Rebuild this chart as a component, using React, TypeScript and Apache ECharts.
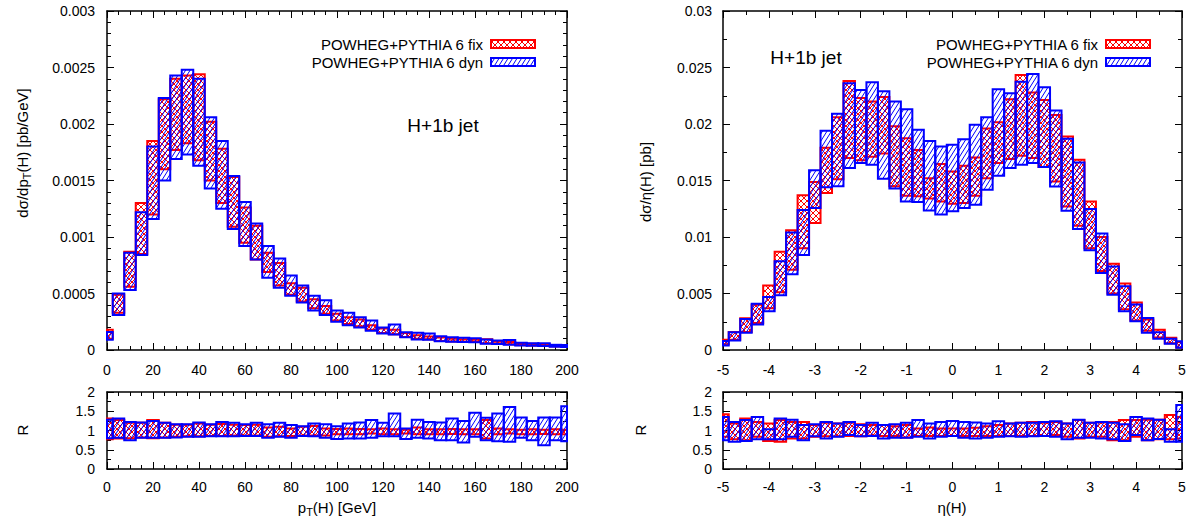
import React, { useEffect, useRef } from 'react';
import * as echarts from 'echarts';

// ---------------- DATA ----------------
const ptCenters = [0, 5, 10, 15, 20, 25, 30, 35, 40, 45, 50, 55, 60, 65, 70, 75, 80, 85, 90, 95, 100, 105, 110, 115, 120, 125, 130, 135, 140, 145, 150, 155, 160, 165, 170, 175, 180, 185, 190, 195, 200];
const ptBinWidth = 5;

const ptFixLo = [0.0001, 0.00033, 0.00056, 0.00085, 0.0012, 0.0016, 0.00177, 0.00183, 0.00168, 0.0015, 0.0013, 0.00109, 0.00095, 0.0008, 0.00069, 0.00057, 0.00049, 0.00043, 0.00037, 0.00032, 0.00026, 0.00023, 0.00021, 0.00018, 0.00015, 0.00014, 0.000115, 0.0001, 0.000095, 0.00008, 0.000076, 0.000072, 0.00007, 0.00006, 0.000055, 0.00005, 0.000043, 0.00004, 0.000038, 0.000032, 0.00003];
const ptFixHi = [0.00018, 0.00049, 0.00087, 0.0013, 0.00185, 0.00222, 0.0024, 0.00243, 0.00244, 0.00202, 0.00178, 0.00153, 0.00126, 0.0011, 0.00086, 0.00077, 0.00059, 0.00055, 0.00045, 0.00039, 0.00032, 0.00029, 0.00027, 0.00022, 0.00019, 0.00018, 0.00015, 0.00013, 0.00012, 0.00011, 0.0001, 0.000095, 0.00009, 0.000095, 0.000075, 0.00007, 0.00006, 0.000055, 0.00005, 0.000042, 0.00004];
const ptDynLo = [0.00009, 0.00031, 0.00053, 0.00084, 0.00116, 0.0015, 0.00169, 0.00173, 0.00163, 0.00143, 0.00125, 0.00107, 0.00092, 0.0008, 0.00064, 0.00055, 0.00048, 0.00042, 0.00035, 0.00031, 0.00025, 0.00022, 0.0002, 0.00017, 0.000146, 0.000137, 0.000113, 0.000093, 0.00009, 0.000078, 0.000073, 0.00007, 0.000068, 0.000055, 0.000052, 0.000046, 0.00004, 0.000038, 0.000035, 0.000029, 0.000027];
const ptDynHi = [0.00016, 0.0005, 0.00086, 0.00122, 0.0018, 0.00223, 0.00243, 0.00248, 0.0024, 0.00206, 0.00185, 0.00154, 0.00131, 0.00112, 0.00092, 0.00081, 0.00066, 0.00057, 0.00048, 0.00044, 0.00035, 0.00033, 0.00029, 0.00026, 0.0002, 0.000225, 0.000157, 0.000152, 0.000146, 0.000122, 0.000113, 0.000108, 0.000105, 0.000093, 0.000085, 0.000088, 0.000064, 0.00006, 0.00006, 0.000046, 0.000045];

const ptRatioFixLo = [0.77, 0.79, 0.8, 0.82, 0.8, 0.82, 0.84, 0.85, 0.85, 0.86, 0.86, 0.87, 0.87, 0.87, 0.84, 0.85, 0.86, 0.87, 0.87, 0.87, 0.9, 0.9, 0.9, 0.92, 0.9, 0.9, 0.92, 0.9, 0.9, 0.9, 0.91, 0.9, 0.9, 0.79, 0.9, 0.92, 0.9, 0.9, 0.91, 0.9, 0.9];
const ptRatioFixHi = [1.31, 1.27, 1.2, 1.2, 1.27, 1.2, 1.15, 1.15, 1.18, 1.15, 1.17, 1.15, 1.14, 1.15, 1.08, 1.1, 1.05, 1.1, 1.12, 1.05, 1.04, 1.05, 1.04, 1.03, 1.05, 1.03, 1.02, 1.08, 1.03, 1.03, 1.04, 1.03, 1.03, 1.27, 1.05, 1.03, 1.02, 1.03, 1.02, 1.03, 1.02];
const ptRatioDynLo = [0.8, 0.81, 0.75, 0.81, 0.81, 0.81, 0.82, 0.84, 0.84, 0.85, 0.85, 0.85, 0.86, 0.86, 0.81, 0.84, 0.81, 0.86, 0.85, 0.81, 0.78, 0.79, 0.79, 0.81, 0.85, 0.85, 0.78, 0.81, 0.79, 0.75, 0.75, 0.69, 0.84, 0.75, 0.72, 0.71, 0.81, 0.75, 0.62, 0.75, 0.72];
const ptRatioDynHi = [1.28, 1.31, 1.22, 1.21, 1.25, 1.2, 1.16, 1.16, 1.21, 1.16, 1.22, 1.2, 1.16, 1.2, 1.16, 1.2, 1.14, 1.11, 1.18, 1.16, 1.11, 1.18, 1.21, 1.27, 1.2, 1.44, 1.05, 1.28, 1.22, 1.21, 1.31, 1.25, 1.46, 1.33, 1.44, 1.61, 1.34, 1.25, 1.34, 1.34, 1.63];

const etaCenters = [-5, -4.75, -4.5, -4.25, -4, -3.75, -3.5, -3.25, -3, -2.75, -2.5, -2.25, -2, -1.75, -1.5, -1.25, -1, -0.75, -0.5, -0.25, 0, 0.25, 0.5, 0.75, 1, 1.25, 1.5, 1.75, 2, 2.25, 2.5, 2.75, 3, 3.25, 3.5, 3.75, 4, 4.25, 4.5, 4.75, 5];
const etaBinWidth = 0.25;

const etaFixLo = [0.0005, 0.0009, 0.0016, 0.0024, 0.0037, 0.0051, 0.0071, 0.009, 0.01124, 0.0139, 0.0151, 0.017, 0.0168, 0.0171, 0.0174, 0.0145, 0.01365, 0.0136, 0.0134, 0.01315, 0.01295, 0.013, 0.01365, 0.0152, 0.01654, 0.0169, 0.0172, 0.017, 0.0162, 0.01492, 0.01271, 0.011, 0.009, 0.007, 0.005, 0.0036, 0.0026, 0.0017, 0.0011, 0.0006, 0.0002];
const etaFixHi = [0.0009, 0.0016, 0.0028, 0.004, 0.0057, 0.0087, 0.0106, 0.0137, 0.01486, 0.0179, 0.0206, 0.0238, 0.0223, 0.022, 0.0224, 0.0198, 0.01875, 0.0177, 0.0152, 0.01645, 0.0158, 0.0163, 0.01704, 0.0196, 0.02016, 0.0222, 0.02434, 0.02278, 0.02213, 0.0208, 0.01889, 0.01683, 0.01315, 0.01, 0.00764, 0.00588, 0.0042, 0.0027, 0.0018, 0.00108, 0.0007];
const etaDynLo = [0.0004, 0.00084, 0.00152, 0.00225, 0.00343, 0.00485, 0.0067, 0.0084, 0.01256, 0.0144, 0.0145, 0.0161, 0.01654, 0.0164, 0.01515, 0.0143, 0.01315, 0.0131, 0.01235, 0.012, 0.01227, 0.01256, 0.01286, 0.01418, 0.01542, 0.0161, 0.01639, 0.01654, 0.01619, 0.01447, 0.01233, 0.01071, 0.00882, 0.00682, 0.0049, 0.00343, 0.00255, 0.00152, 0.00099, 0.00055, 0.0002];
const etaDynHi = [0.0008, 0.00157, 0.00275, 0.0041, 0.0047, 0.00785, 0.0104, 0.0124, 0.0159, 0.0194, 0.0209, 0.0236, 0.023, 0.0237, 0.0229, 0.022, 0.0213, 0.0195, 0.0185, 0.018, 0.01816, 0.01866, 0.01993, 0.0206, 0.02308, 0.02273, 0.02375, 0.02443, 0.02326, 0.02119, 0.01869, 0.0166, 0.01248, 0.0103, 0.0074, 0.00564, 0.00402, 0.00284, 0.00157, 0.001, 0.00078];

const etaRatioFixLo = [0.84, 0.77, 0.75, 0.84, 0.73, 0.71, 0.79, 0.79, 0.84, 0.85, 0.85, 0.86, 0.85, 0.87, 0.86, 0.86, 0.82, 0.86, 0.86, 0.86, 0.86, 0.86, 0.86, 0.86, 0.86, 0.86, 0.86, 0.86, 0.86, 0.88, 0.84, 0.79, 0.84, 0.84, 0.75, 0.75, 0.84, 0.75, 0.77, 0.77, 0.79];
const etaRatioFixHi = [1.42, 1.18, 1.31, 1.22, 1.18, 1.27, 1.22, 1.22, 1.14, 1.2, 1.18, 1.2, 1.16, 1.14, 1.14, 1.11, 1.14, 1.05, 1.08, 1.05, 1.05, 1.05, 1.07, 1.11, 1.14, 1.18, 1.2, 1.22, 1.2, 1.22, 1.18, 1.27, 1.2, 1.21, 1.22, 1.27, 1.27, 1.28, 1.28, 1.4, 1.35];
const etaRatioDynLo = [0.75, 0.71, 0.73, 0.77, 0.77, 0.77, 0.84, 0.75, 0.85, 0.79, 0.84, 0.88, 0.85, 0.86, 0.79, 0.81, 0.81, 0.84, 0.79, 0.84, 0.86, 0.81, 0.79, 0.81, 0.84, 0.85, 0.84, 0.85, 0.86, 0.84, 0.77, 0.81, 0.81, 0.79, 0.77, 0.73, 0.88, 0.75, 0.78, 0.71, 0.71];
const etaRatioDynHi = [1.35, 1.22, 1.27, 1.35, 1.03, 1.31, 1.28, 1.14, 1.16, 1.22, 1.18, 1.22, 1.14, 1.2, 1.14, 1.16, 1.2, 1.27, 1.18, 1.22, 1.25, 1.22, 1.21, 1.18, 1.24, 1.18, 1.2, 1.2, 1.22, 1.24, 1.18, 1.28, 1.2, 1.22, 1.2, 1.16, 1.35, 1.31, 1.28, 1.03, 1.66];

const legendLabels = ['POWHEG+PYTHIA 6 fix', 'POWHEG+PYTHIA 6 dyn'];
const processLabel = 'H+1b jet';

// ---------------- STYLE ----------------
const FONT = '"Liberation Sans", Arial, Helvetica, sans-serif';
const RED = '#ff0000';
const BLUE = '#0000ff';

// hatch shape: set of parallel lines clipped to a rectangle
const HatchShape = (echarts.graphic as any).extendShape({
  type: 'hatch',
  shape: { x0: 0, y0: 0, x1: 0, y1: 0, step: 5, m: 1, dir: 1 },
  buildPath(ctx: any, s: any) {
    const x0 = Math.min(s.x0, s.x1), x1 = Math.max(s.x0, s.x1);
    const y0 = Math.min(s.y0, s.y1), y1 = Math.max(s.y0, s.y1);
    const m = s.m, step = s.step;
    if (!(step > 0) || x1 - x0 < 0.5 || y1 - y0 < 0.5) return;
    const dk = step * m;
    if (s.dir > 0) {
      const kmin = m * x0 + y0, kmax = m * x1 + y1;
      for (let k = Math.ceil(kmin / dk) * dk; k <= kmax; k += dk) {
        const xa = Math.max(x0, (k - y1) / m);
        const xb = Math.min(x1, (k - y0) / m);
        if (xb - xa > 0.05) {
          ctx.moveTo(xa, k - m * xa);
          ctx.lineTo(xb, k - m * xb);
        }
      }
    } else {
      const kmin = m * x0 - y1, kmax = m * x1 - y0;
      for (let k = Math.ceil(kmin / dk) * dk; k <= kmax; k += dk) {
        const xa = Math.max(x0, (k + y0) / m);
        const xb = Math.min(x1, (k + y1) / m);
        if (xb - xa > 0.05) {
          ctx.moveTo(xa, m * xa - k);
          ctx.lineTo(xb, m * xb - k);
        }
      }
    }
  },
});
(echarts.graphic as any).registerShape('hatch', HatchShape);

type HatchKind = 'fix' | 'dyn';
const hatchParams: Record<HatchKind, { color: string; cross: boolean; step: number; m: number; border: number }> = {
  fix: { color: RED, cross: true, step: 6, m: 1, border: 2 },
  dyn: { color: BLUE, cross: false, step: 4.5, m: 1.6, border: 2 },
};

function hatchChildren(kind: HatchKind, x0: number, y0: number, x1: number, y1: number) {
  const p = hatchParams[kind];
  const ch: any[] = [
    { type: 'hatch', shape: { x0, y0, x1, y1, step: p.step, m: p.m, dir: 1 }, style: { stroke: p.color, lineWidth: 1, fill: 'none' } },
  ];
  if (p.cross) {
    ch.push({ type: 'hatch', shape: { x0, y0, x1, y1, step: p.step, m: p.m, dir: -1 }, style: { stroke: p.color, lineWidth: 1, fill: 'none' } });
  }
  ch.push({ type: 'rect', shape: { x: x0, y: y0, width: x1 - x0, height: y1 - y0 }, style: { stroke: p.color, lineWidth: p.border, fill: 'none' } });
  return ch;
}

function makeBoxes(centers: number[], w: number, lo: number[], hi: number[], min: number, max: number) {
  return centers.map((c, i) => [Math.max(c - w / 2, min), Math.min(c + w / 2, max), lo[i], hi[i]]);
}

function bandSeries(kind: HatchKind, grid: number, data: number[][]) {
  return {
    type: 'custom',
    xAxisIndex: grid * 2,
    yAxisIndex: grid * 2,
    silent: true,
    data,
    renderItem: (_params: any, api: any) => {
      const a = api.coord([api.value(0), api.value(3)]);
      const b = api.coord([api.value(1), api.value(2)]);
      const x0 = Math.min(a[0], b[0]), x1 = Math.max(a[0], b[0]);
      const y0 = Math.min(a[1], b[1]), y1 = Math.max(a[1], b[1]);
      return { type: 'group', children: hatchChildren(kind, x0, y0, x1, y1) };
    },
  };
}

const grids = [
  { left: 107, top: 11, width: 460, height: 339 },
  { left: 107, top: 392, width: 460, height: 77 },
  { left: 723, top: 11, width: 459, height: 339 },
  { left: 723, top: 392, width: 459, height: 77 },
];

const axisLineStyle = { show: true, onZero: false, lineStyle: { color: '#000', width: 1.5 } };
const tickStyle = { show: true, inside: true, length: 7, lineStyle: { color: '#000', width: 1 } };

function xAxisPair(grid: number, min: number, max: number, interval: number, minorSplit: number, margin: number) {
  const base = {
    type: 'value', gridIndex: grid, min, max, interval,
    axisLine: axisLineStyle, axisTick: tickStyle,
    minorTick: { show: true, splitNumber: minorSplit, length: 4, lineStyle: { color: '#000', width: 1 } },
    splitLine: { show: false }, minorSplitLine: { show: false },
  };
  return [
    { ...base, position: 'bottom', axisLabel: { show: true, margin, color: '#000', fontSize: 14, fontFamily: FONT } },
    { ...base, position: 'top', axisLabel: { show: false } },
  ];
}

function yAxisPair(grid: number, min: number, max: number, interval: number, minorSplit: number, margin: number) {
  const base = {
    type: 'value', gridIndex: grid, min, max, interval,
    axisLine: axisLineStyle, axisTick: tickStyle,
    minorTick: { show: true, splitNumber: minorSplit, length: 4, lineStyle: { color: '#000', width: 1 } },
    splitLine: { show: false }, minorSplitLine: { show: false },
  };
  return [
    { ...base, position: 'left', axisLabel: { show: true, margin, color: '#000', fontSize: 14, fontFamily: FONT } },
    { ...base, position: 'right', axisLabel: { show: false } },
  ];
}

const subRich = { sub: { fontSize: 11, lineHeight: 10, verticalAlign: 'bottom', fontFamily: FONT, fill: '#000' } };

function label(text: string, x: number, y: number, size: number, rotation = 0, align = 'center') {
  return {
    type: 'text', x, y, rotation, silent: true,
    style: { text, fontSize: size, fontFamily: FONT, fill: '#000', align, verticalAlign: 'middle', lineHeight: 20, rich: subRich },
  };
}

function legendBlock(dx: number) {
  const els: any[] = [];
  const rows: [HatchKind, number][] = [['fix', 44], ['dyn', 62]];
  rows.forEach(([kind, y], i) => {
    els.push(label(legendLabels[i], 483 + dx, y, 15, 0, 'right'));
    els.push({ type: 'group', silent: true, children: hatchChildren(kind, 491 + dx, y - 4, 535 + dx, y + 4) });
  });
  return els;
}

export default function App() {
  const ref = useRef<HTMLDivElement>(null);
  useEffect(() => {
    if (!ref.current) return;
    const chart = echarts.init(ref.current, null, { renderer: 'svg' });
    const option: any = {
      animation: false,
      backgroundColor: '#fff',
      grid: grids.map((g) => ({ ...g, containLabel: false, show: false })),
      xAxis: [
        ...xAxisPair(0, 0, 200, 20, 4, 13),
        ...xAxisPair(1, 0, 200, 20, 4, 11),
        ...xAxisPair(2, -5, 5, 1, 2, 13),
        ...xAxisPair(3, -5, 5, 1, 2, 11),
      ],
      yAxis: [
        ...yAxisPair(0, 0, 0.003, 0.0005, 5, 12),
        ...yAxisPair(1, 0, 2, 0.5, 2, 12),
        ...yAxisPair(2, 0, 0.03, 0.005, 2, 11),
        ...yAxisPair(3, 0, 2, 0.5, 2, 11),
      ],
      series: [
        bandSeries('fix', 0, makeBoxes(ptCenters, ptBinWidth, ptFixLo, ptFixHi, 0, 200)),
        bandSeries('dyn', 0, makeBoxes(ptCenters, ptBinWidth, ptDynLo, ptDynHi, 0, 200)),
        bandSeries('fix', 1, makeBoxes(ptCenters, ptBinWidth, ptRatioFixLo, ptRatioFixHi, 0, 200)),
        bandSeries('dyn', 1, makeBoxes(ptCenters, ptBinWidth, ptRatioDynLo, ptRatioDynHi, 0, 200)),
        bandSeries('fix', 2, makeBoxes(etaCenters, etaBinWidth, etaFixLo, etaFixHi, -5, 5)),
        bandSeries('dyn', 2, makeBoxes(etaCenters, etaBinWidth, etaDynLo, etaDynHi, -5, 5)),
        bandSeries('fix', 3, makeBoxes(etaCenters, etaBinWidth, etaRatioFixLo, etaRatioFixHi, -5, 5)),
        bandSeries('dyn', 3, makeBoxes(etaCenters, etaBinWidth, etaRatioDynLo, etaRatioDynHi, -5, 5)),
      ],
      graphic: [
        label('d\u03c3/dp{sub|T}(H) [pb/GeV]', 22, 153, 15, Math.PI / 2),
        label('R', 22, 430, 15, Math.PI / 2),
        label('p{sub|T}(H) [GeV]', 337, 507, 15),
        label('d\u03c3/\u03b7(H) [pb]', 645, 182, 15, Math.PI / 2),
        label('R', 640, 430, 15, Math.PI / 2),
        label('\u03b7(H)', 952, 507, 15),
        label(processLabel, 443, 125, 19),
        label(processLabel, 806, 57, 19),
        ...legendBlock(0),
        ...legendBlock(615),
      ],
    };
    chart.setOption(option);
    return () => chart.dispose();
  }, []);
  return <div ref={ref} style={{ position: 'fixed', left: 0, top: 0, width: 1193, height: 531, background: '#fff' }} />;
}
